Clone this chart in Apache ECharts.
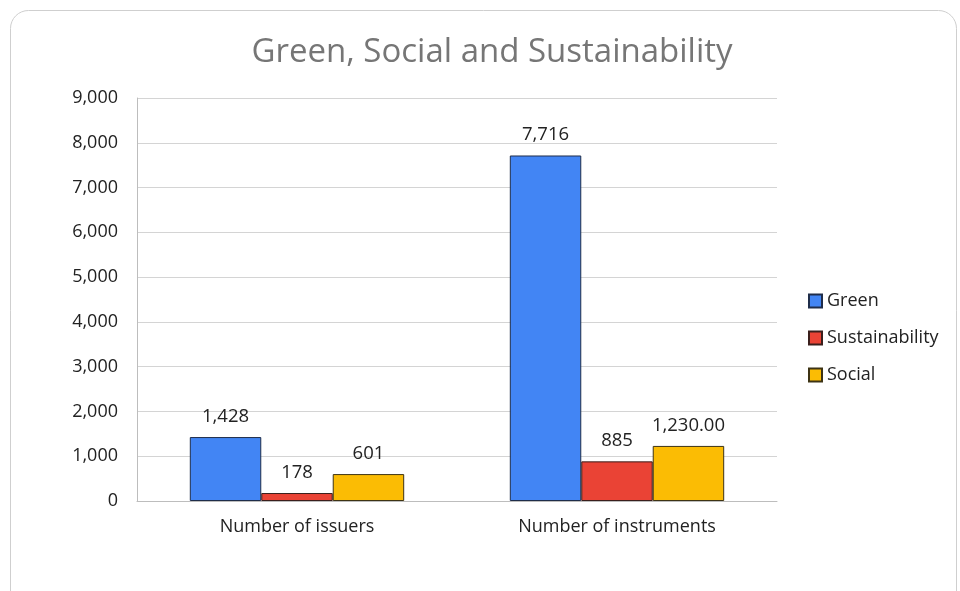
<!DOCTYPE html>
<html>
<head>
<meta charset="utf-8">
<script src="https://cdn.jsdelivr.net/npm/echarts@6/dist/echarts.min.js"></script>
<style>
  html, body { margin: 0; padding: 0; background: #fff; }
  #chart { width: 960px; height: 591px; }
</style>
</head>
<body>
<div id="chart"></div>
<script>
// Labelled bond market figures
const categories = ['Number of issuers', 'Number of instruments'];
const green = [1428, 7716];
const sustainability = [178, 885];
const social = [601, 1230];
// decimals shown in each social label
const socialDecimals = [0, 2];
const yTicks = { min: 0, max: 9000, interval: 1000 };

const fmt = (v, d) => v.toLocaleString('en-US', { minimumFractionDigits: d, maximumFractionDigits: d });

const font = 'Open Sans, Noto Sans, sans-serif';

const labelBase = {
  show: true,
  position: 'top',
  distance: 11,
  color: '#222',
  fontSize: 18.5,
  fontFamily: font
};

const chart = echarts.init(document.getElementById('chart'), null, { renderer: 'canvas' });

chart.setOption({
  animation: false,
  backgroundColor: '#fff',
  graphic: [{
    type: 'rect',
    shape: { x: 10.5, y: 10.5, width: 946, height: 600, r: 18 },
    style: { fill: 'none', stroke: '#cfcfcf', lineWidth: 1 },
    silent: true,
    z: -1
  }],
  title: {
    text: 'Green, Social and Sustainability',
    left: 487,
    textAlign: 'center',
    top: 31,
    textStyle: { color: '#767676', fontSize: 33, fontWeight: 'normal', fontFamily: font }
  },
  legend: {
    orient: 'vertical',
    left: 803,
    top: 287,
    itemWidth: 13,
    itemHeight: 13,
    itemGap: 19,
    icon: 'rect',
    textStyle: { color: '#222', fontSize: 18, fontFamily: font },
    data: ['Green', 'Sustainability', 'Social']
  },
  grid: { left: 137, right: 183, top: 98, bottom: 90, containLabel: false },
  xAxis: {
    type: 'category',
    data: categories,
    axisLine: { lineStyle: { color: '#bdbdbd', width: 1 } },
    axisTick: { show: false },
    axisLabel: { color: '#222', fontSize: 18, fontFamily: font, margin: 17 }
  },
  yAxis: {
    type: 'value',
    min: yTicks.min,
    max: yTicks.max,
    interval: yTicks.interval,
    axisLine: { show: true, lineStyle: { color: '#bdbdbd', width: 1 } },
    axisTick: { show: false },
    splitLine: { lineStyle: { color: '#d4d4d4', width: 1 } },
    axisLabel: {
      color: '#222', fontSize: 18, fontFamily: font, margin: 19,
      formatter: v => fmt(v, 0)
    }
  },
  series: [
    {
      name: 'Green', type: 'bar', data: green,
      barGap: '0%', barCategoryGap: '33%',
      itemStyle: { color: '#4285f4', borderColor: '#1f2d4a', borderWidth: 1 },
      label: Object.assign({}, labelBase, { formatter: p => fmt(p.value, 0) })
    },
    {
      name: 'Sustainability', type: 'bar', data: sustainability,
      barGap: '0%', barCategoryGap: '33%',
      itemStyle: { color: '#ea4335', borderColor: '#3a1f1c', borderWidth: 1 },
      label: Object.assign({}, labelBase, { formatter: p => fmt(p.value, 0) })
    },
    {
      name: 'Social', type: 'bar', data: social,
      barGap: '0%', barCategoryGap: '33%',
      itemStyle: { color: '#fbbc04', borderColor: '#3d3314', borderWidth: 1 },
      label: Object.assign({}, labelBase, { formatter: p => fmt(p.value, socialDecimals[p.dataIndex]) })
    }
  ]
});
</script>
</body>
</html>
